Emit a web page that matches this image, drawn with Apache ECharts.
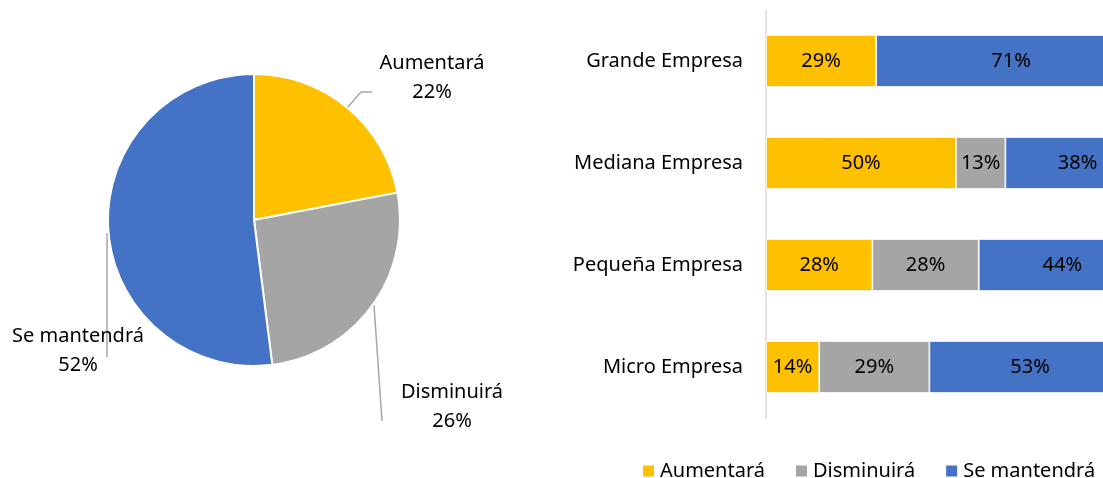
<!DOCTYPE html>
<html>
<head>
<meta charset="utf-8">
<script src="https://cdn.jsdelivr.net/npm/echarts@6/dist/echarts.min.js"></script>
<style>
  html, body { margin: 0; padding: 0; background: #fff; }
  #main { width: 1103px; height: 478px; }
</style>
</head>
<body>
<div id="main"></div>
<script>
// pie: overall expectation
const pieNames = ['Aumentará', 'Disminuirá', 'Se mantendrá'];
const pieValues = [22, 26, 52];

// stacked bars by company size (top to bottom)
const sizes = ['Grande Empresa', 'Mediana Empresa', 'Pequeña Empresa', 'Micro Empresa'];
const aumentara = [29, 50, 28, 14];
const disminuira = [0, 13, 28, 29];
const mantendra = [71, 38, 44, 53];

const colors = ['#FFC000', '#A5A5A5', '#4472C4'];
const font = 'Noto Sans';
const fs = 20;

// where each pie label sits and how its leader line runs
const pieLabelPos = [
  { x: 432, y: 78, line: [[347, 108], [361, 92], [372, 92]] },
  { x: 452, y: 407, line: [[374, 305], [382, 421]] },
  { x: 78, y: 351, line: [[107, 233], [107, 357]] }
];

const chart = echarts.init(document.getElementById('main'));

const barSeries = [aumentara, disminuira, mantendra].map((vals, i) => ({
  name: pieNames[i],
  type: 'bar',
  stack: 'total',
  barWidth: 52,
  clip: false,
  data: vals,
  itemStyle: { color: colors[i], borderColor: '#fff', borderWidth: 0.8 },
  label: {
    show: true,
    position: 'inside',
    color: '#000',
    fontFamily: font,
    fontSize: fs,
    formatter: p => p.value > 0 ? p.value + '%' : ''
  }
}));

chart.setOption({
  animation: false,
  textStyle: { fontFamily: font },
  legend: {
    data: pieNames,
    left: 636,
    top: 456,
    itemWidth: 13,
    itemHeight: 13,
    itemGap: 29,
    icon: 'rect',
    textStyle: { fontFamily: font, fontSize: fs, color: '#000' }
  },
  // the plot runs past the right edge of the picture, as in the original
  grid: { left: 766, top: 10, right: 0, height: 408 },
  xAxis: {
    type: 'value',
    min: 0,
    max: 88.7,
    show: false
  },
  yAxis: {
    type: 'category',
    inverse: true,
    data: sizes,
    axisLine: { show: true, lineStyle: { color: '#d9d9d9', width: 1.5 } },
    axisTick: { show: false },
    axisLabel: { color: '#000', fontFamily: font, fontSize: fs, margin: 23 }
  },
  series: [
    {
      type: 'pie',
      center: [254, 220],
      radius: 146,
      startAngle: 90,
      data: pieNames.map((n, i) => ({ name: n, value: pieValues[i], itemStyle: { color: colors[i] } })),
      itemStyle: { borderColor: '#fff', borderWidth: 2 },
      label: {
        show: true,
        formatter: '{b}\n{c}%',
        color: '#000',
        fontFamily: font,
        fontSize: fs,
        lineHeight: 29,
        align: 'center',
        overflow: 'none'
      },
      labelLine: { show: true, lineStyle: { color: '#a6a6a6', width: 1.5 } },
      labelLayout: params => {
        const p = pieLabelPos[params.dataIndex];
        return {
          x: p.x,
          y: p.y,
          align: 'center',
          verticalAlign: 'middle',
          labelLinePoints: p.line
        };
      }
    },
    ...barSeries
  ]
});
</script>
</body>
</html>
